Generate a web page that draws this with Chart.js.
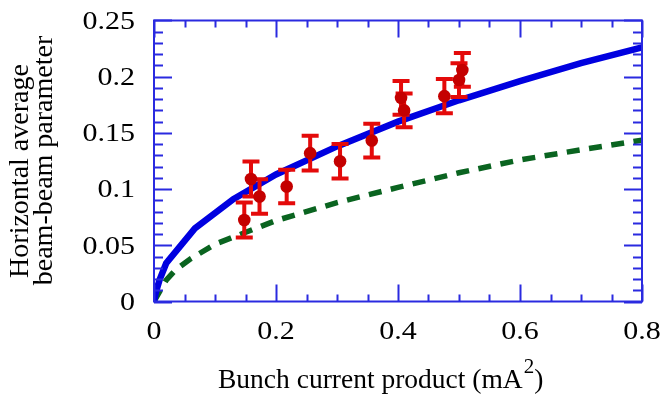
<!DOCTYPE html>
<html>
<head>
<meta charset="utf-8">
<script src="https://cdn.jsdelivr.net/npm/chart.js@4.4.1/dist/chart.umd.min.js"></script>
<style>
  html, body { margin: 0; padding: 0; background: #fff; }
  #wrap { width: 660px; height: 394px; }
</style>
</head>
<body>
<div id="wrap"><canvas id="beam-chart" width="660" height="394"></canvas></div>
<script>
// tick labels
const xTickValues = [0, 0.2, 0.4, 0.6, 0.8];
const xTickLabels = ['0', '0.2', '0.4', '0.6', '0.8'];
const yTickValues = [0, 0.05, 0.1, 0.15, 0.2, 0.25];
const yTickLabels = ['0', '0.05', '0.1', '0.15', '0.2', '0.25'];
const xMinorStep = 0.05;
const yMinorStep = 0.01;

// measured points (with +/- error)
const measX = [0.148, 0.159, 0.173, 0.2175, 0.256, 0.305, 0.357, 0.405, 0.410, 0.476, 0.500, 0.5055];
const measY = [0.0725, 0.109, 0.0934, 0.1023, 0.132, 0.1248, 0.1432, 0.1812, 0.170, 0.1827, 0.197, 0.206];
const measErr = [0.0155, 0.0155, 0.0153, 0.015, 0.0155, 0.0153, 0.015, 0.015, 0.015, 0.0153, 0.015, 0.015];

// solid blue curve
const solidX = [0, 0.003, 0.009, 0.02, 0.067, 0.13, 0.2, 0.3, 0.4, 0.5, 0.6, 0.7, 0.8];
const solidY = [0, 0.008, 0.019, 0.034, 0.065, 0.091, 0.113, 0.138, 0.160, 0.179, 0.196, 0.212, 0.226];

// dashed green curve
const dashX = [0, 0.02, 0.035, 0.06, 0.1, 0.2, 0.3, 0.4, 0.5, 0.6, 0.7, 0.8];
const dashY = [0, 0.019, 0.028, 0.038, 0.051, 0.072, 0.088, 0.1015, 0.1145, 0.126, 0.135, 0.1435];

const axisColor = '#2a2ae0';
const serif = '"Liberation Serif", "Times New Roman", serif';

const pts = (xs, ys) => xs.map((x, i) => ({ x: x, y: ys[i] }));

// stretched text helper (reference glyphs are a bit wide)
function stretchText(ctx, str, x, y, align, sx) {
  ctx.save();
  ctx.translate(x, y);
  ctx.scale(sx, 1);
  ctx.textAlign = align;
  ctx.fillText(str, 0, 0);
  ctx.restore();
}

const errorBars = {
  id: 'errorBars',
  beforeDatasetDraw(chart, args) {
    if (args.index !== 2) return;
    const { ctx, scales: { x, y } } = chart;
    ctx.save();
    ctx.strokeStyle = '#e40a0a';
    ctx.lineWidth = 4;
    ctx.lineCap = 'butt';
    measX.forEach((mx, i) => {
      const px = x.getPixelForValue(mx);
      const top = y.getPixelForValue(measY[i] + measErr[i]);
      const bot = y.getPixelForValue(measY[i] - measErr[i]);
      ctx.beginPath();
      ctx.moveTo(px, top); ctx.lineTo(px, bot);
      ctx.moveTo(px - 8.5, top); ctx.lineTo(px + 8.5, top);
      ctx.moveTo(px - 8.5, bot); ctx.lineTo(px + 8.5, bot);
      ctx.stroke();
    });
    ctx.restore();
  }
};

const frameAndText = {
  id: 'frameAndText',
  afterDraw(chart) {
    const { ctx, chartArea: a, scales: { x, y } } = chart;
    ctx.save();
    ctx.strokeStyle = axisColor;
    ctx.lineWidth = 2;
    ctx.strokeRect(a.left, a.top, a.right - a.left, a.bottom - a.top);

    ctx.beginPath();
    // x ticks, bottom and top, pointing in
    for (let v = 0; v <= 0.8 + 1e-9; v += xMinorStep) {
      const major = xTickValues.some(t => Math.abs(t - v) < 1e-6);
      const len = major ? 17 : 7;
      const px = Math.round(x.getPixelForValue(v)) + 0.5;
      ctx.moveTo(px, a.bottom); ctx.lineTo(px, a.bottom - len);
      ctx.moveTo(px, a.top); ctx.lineTo(px, a.top + len);
    }
    // y ticks, left and right
    for (let v = 0; v <= 0.25 + 1e-9; v += yMinorStep) {
      const major = yTickValues.some(t => Math.abs(t - v) < 1e-6);
      const len = major ? 18 : 9;
      const py = Math.round(y.getPixelForValue(v)) + 0.5;
      ctx.moveTo(a.left, py); ctx.lineTo(a.left + len, py);
      ctx.moveTo(a.right, py); ctx.lineTo(a.right - len, py);
    }
    ctx.stroke();

    // tick labels
    ctx.fillStyle = '#000';
    ctx.font = '25px ' + serif;
    ctx.textBaseline = 'alphabetic';
    xTickValues.forEach((v, i) => {
      stretchText(ctx, xTickLabels[i], x.getPixelForValue(v), 338.5, 'center', 1.2);
    });
    yTickValues.forEach((v, i) => {
      stretchText(ctx, yTickLabels[i], 135, y.getPixelForValue(v) + 8.3, 'right', 1.2);
    });

    // x title with superscript
    ctx.font = '27.5px ' + serif;
    ctx.textAlign = 'left';
    const mainTxt = 'Bunch current product (mA';
    let tx = 218;
    ctx.fillText(mainTxt, tx, 388);
    tx += ctx.measureText(mainTxt).width;
    ctx.font = '21px ' + serif;
    ctx.fillText('2', tx + 1, 373);
    tx += ctx.measureText('2').width + 1;
    ctx.font = '27.5px ' + serif;
    ctx.fillText(')', tx, 388);

    // y title, two lines
    ctx.font = '28px ' + serif;
    ctx.textBaseline = 'middle';
    ctx.textAlign = 'center';
    ctx.save();
    ctx.translate(21, 171);
    ctx.rotate(-Math.PI / 2);
    ctx.fillText('Horizontal average', 0, 0);
    ctx.restore();
    ctx.save();
    ctx.translate(44.5, 160.5);
    ctx.rotate(-Math.PI / 2);
    ctx.fillText('beam-beam parameter', 0, 0);
    ctx.restore();

    ctx.restore();
  }
};

const config = {
  type: 'scatter',
  data: {
    datasets: [
      {
        label: 'dashed',
        type: 'line',
        data: pts(dashX, dashY),
        borderColor: '#0a6420',
        borderWidth: 5.5,
        borderDash: [13, 9.5],
        pointRadius: 0,
        tension: 0,
        fill: false,
        order: 3
      },
      {
        label: 'solid',
        type: 'line',
        data: pts(solidX, solidY),
        borderColor: '#0000e0',
        borderWidth: 6.5,
        pointRadius: 0,
        tension: 0,
        fill: false,
        order: 2
      },
      {
        label: 'measured',
        data: pts(measX, measY),
        backgroundColor: '#c40000',
        borderWidth: 0,
        pointRadius: 6.3,
        order: 1
      }
    ]
  },
  options: {
    responsive: false,
    animation: false,
    events: [],
    layout: { padding: { left: 154, right: 18, top: 20.5, bottom: 92.5 } },
    plugins: { legend: { display: false }, tooltip: { enabled: false } },
    scales: {
      x: { type: 'linear', min: 0, max: 0.8, display: false },
      y: { type: 'linear', min: 0, max: 0.25, display: false }
    }
  },
  plugins: [errorBars, frameAndText]
};

new Chart(document.getElementById('beam-chart').getContext('2d'), config);
</script>
</body>
</html>
